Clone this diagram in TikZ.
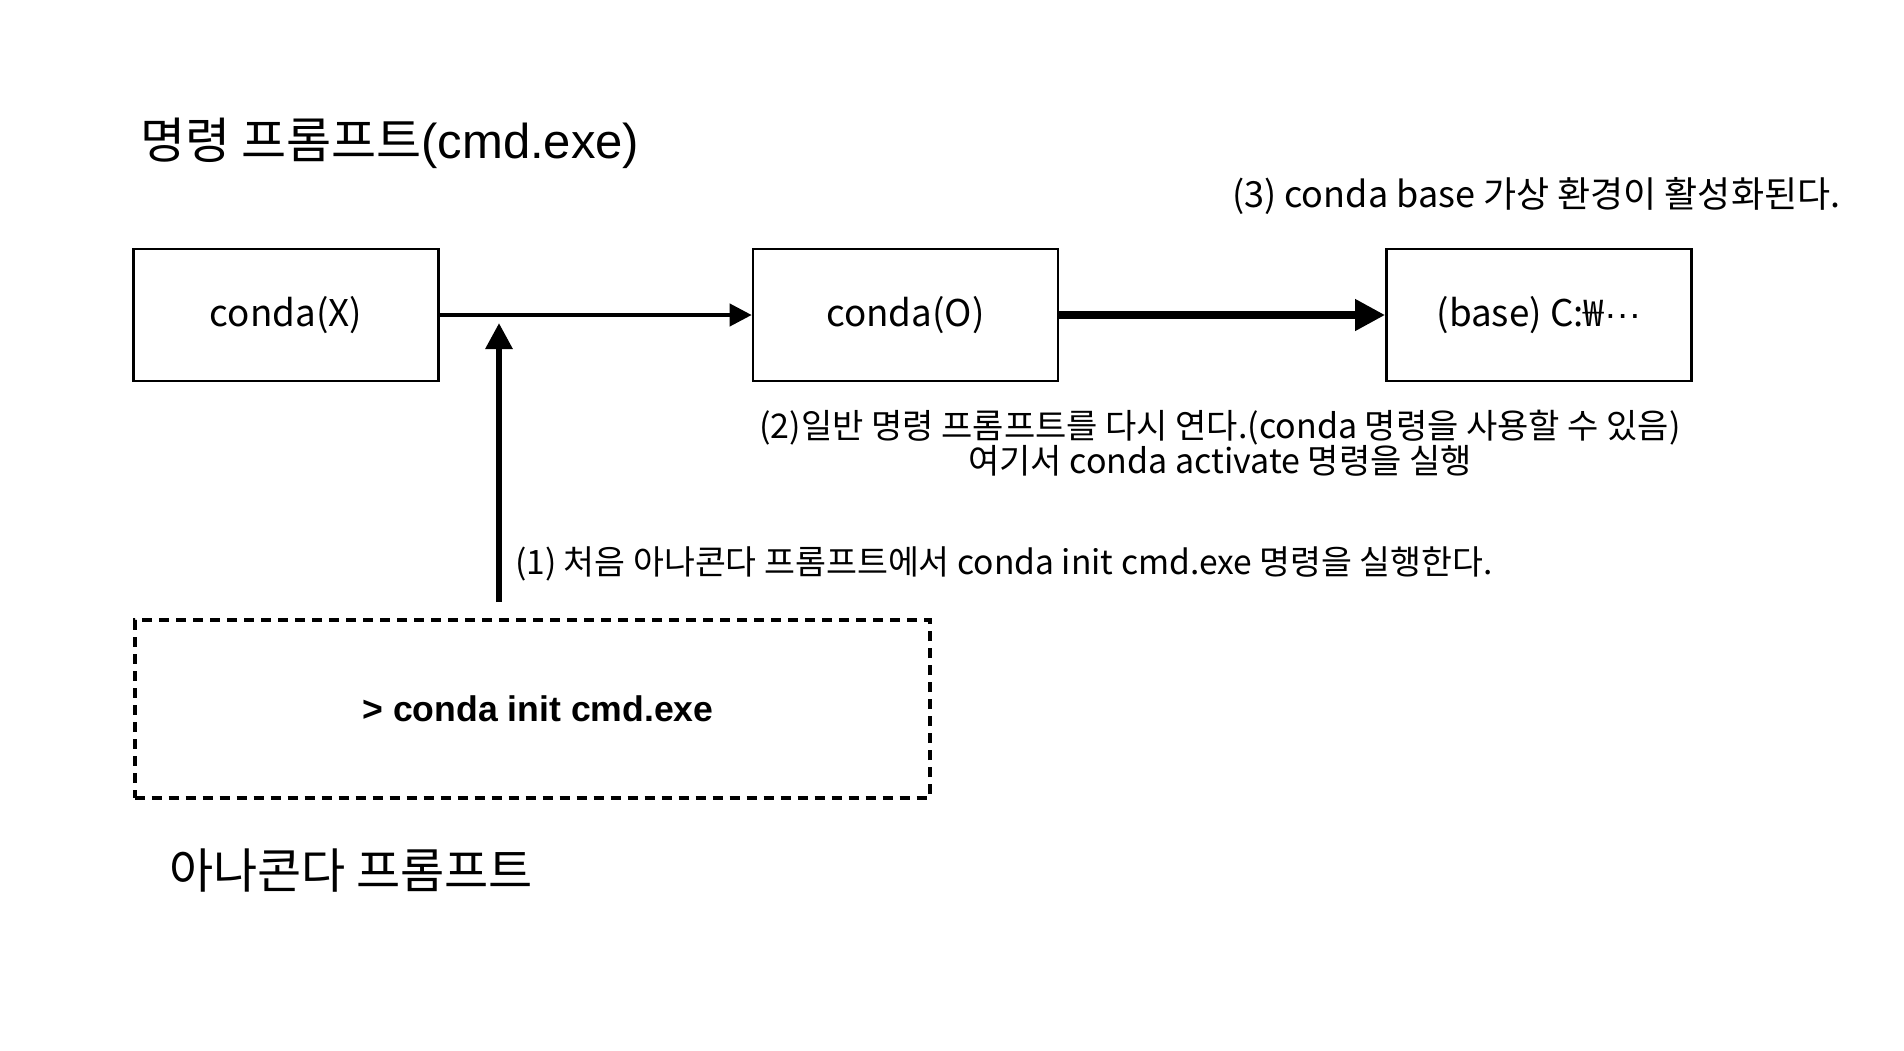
\documentclass[tikz,border=0pt]{standalone}
\usepackage{fontspec}
\setmainfont{Noto Sans CJK KR}
\newfontfamily\helv{Liberation Sans}
\usetikzlibrary{arrows.meta,positioning}
\tikzstyle{block} = [rectangle, draw, line width=1.2pt, minimum width=152.5pt,
    minimum height=66pt, font=\fontsize{18.4}{20}\selectfont]
\tikzstyle{dashblock} = [rectangle, draw, line width=2pt, dash pattern=on 5pt off 3.5pt,
    minimum width=397.5pt, minimum height=89pt, font=\helv\bfseries\fontsize{17.8}{20}\selectfont]
\tikzstyle{note} = [inner sep=0pt, font=\fontsize{17}{17.7}\selectfont]
\tikzstyle{caption} = [inner sep=0pt, font=\fontsize{24.5}{28}\selectfont]

\begin{document}
\begin{tikzpicture}[x=0.5pt,y=-0.5pt,->,>={Triangle[length=11pt,width=11pt]},
                    line width=2pt]
  \useasboundingbox (0,0) rectangle (1904,1050);

  \node[caption,anchor=west] (cmdtitle) at (138,143) {명령 프롬프트{\helv(cmd.exe)}};
  \node[block] (cx) at (286,315) {conda(X)};
  \node[block] (co) [right=156pt of cx] {conda(O)};
  \node[block] (base) [right=163pt of co] {(base) C:₩{\helv···}};

  \node[note,anchor=west,font=\fontsize{18}{20}\selectfont] (step3) at (1230,196) {(3) conda base 가상 환경이 활성화된다.};
  \node[note,align=center] (step2) at (1220,443) {(2)일반 명령 프롬프트를 다시 연다.(conda 명령을 사용할 수 있음)\\여기서 conda activate 명령을 실행};
  \node[note,anchor=west,font=\fontsize{16.8}{18}\selectfont] (step1) at (513,564) {(1) 처음 아나콘다 프롬프트에서 conda init cmd.exe 명령을 실행한다.};

  \node[dashblock] (anaconda) at (532,709) {\hspace*{6pt}> conda init cmd.exe};
  \node[caption,anchor=west,font=\fontsize{24}{28}\selectfont] (anatitle) at (167,871) {아나콘다 프롬프트};

  \coordinate (src) at (499,602);
  \coordinate (dst) at (499,323);

  \path (cx) edge (co);
  \path (co) edge[line width=3.6pt, -{Triangle[length=15pt,width=15pt]}] (base);
  \path (src) edge[line width=3pt, -{Triangle[length=13pt,width=13pt]}] (dst);
\end{tikzpicture}
\end{document}
